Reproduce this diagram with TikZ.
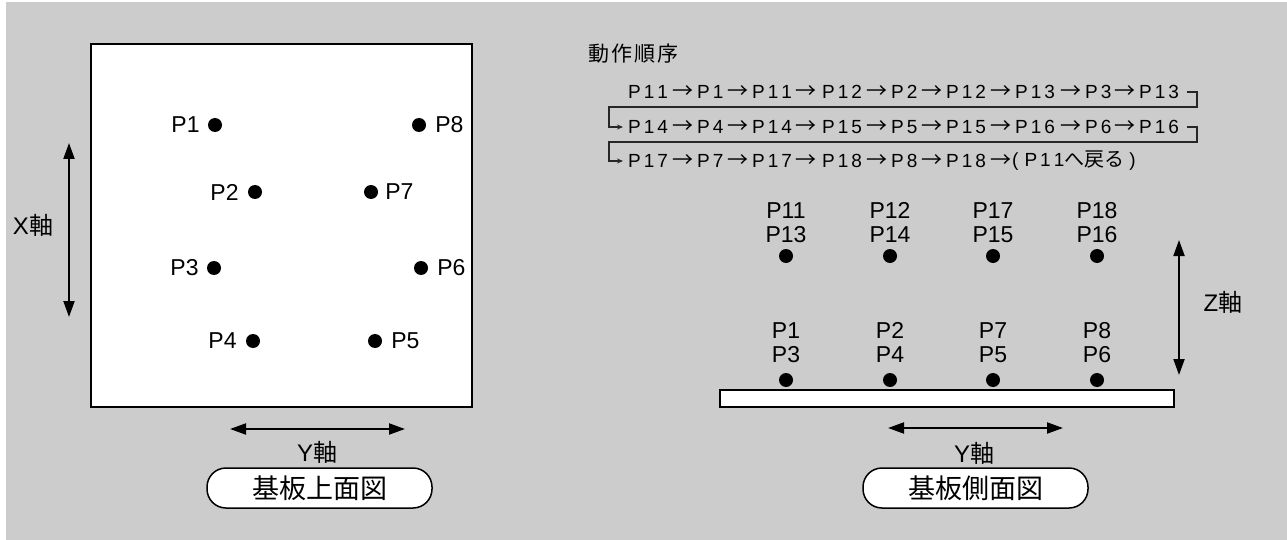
\documentclass[tikz,border=0pt]{standalone}
\usepackage{fontspec}
\setmainfont{Liberation Sans}
\newfontfamily\jp{Noto Sans CJK JP}
\newfontfamily\seqj[LetterSpace=10]{Noto Sans CJK JP}
\newcommand\ks{\kern3pt}
\usetikzlibrary{arrows.meta,positioning}
\definecolor{bg}{HTML}{CCCCCC}
\begin{document}
\begin{tikzpicture}[x=1pt,y=-1pt,
  dot/.style={circle,fill=black,inner sep=0pt,minimum size=14pt},
  lbl/.style={inner sep=0pt,font=\fontsize{23}{24}\selectfont},
  stack/.style={inner sep=0pt,align=center,font=\fontsize{23}{24}\selectfont},
  axis/.style={line width=2pt,{Triangle[length=16pt,width=11pt]}-{Triangle[length=16pt,width=11pt]}},
  axlbl/.style={inner sep=0pt,font=\fontsize{24}{26}\selectfont},
  capsule/.style={draw=black,line width=1.5pt,fill=white,rounded corners=19pt,minimum width=225pt,minimum height=40pt,inner sep=0pt,font=\jp\fontsize{27}{30}\selectfont},
  tok/.style={inner sep=0pt,anchor=west,font=\fontsize{19}{20}\selectfont},
  arr/.style={inner sep=0pt,font=\jp\fontsize{21}{21}\selectfont},
  seqline/.style={line width=1.5pt,draw=black!85},
  board/.style={line width=2pt,fill=white,draw=black}
]
\useasboundingbox (0,0) rectangle (1287,540);
\fill[white] (0,0) rectangle (1287,540);
\fill[bg] (6,2) rectangle (1287,540);

% ---- top view ----
\draw[board] (91,44) rectangle (472,407);
\node[dot] (d1) at (215,125) {}; \node[lbl,left=8pt of d1] (t1) {P1};
\node[dot] (d8) at (419,125) {}; \node[lbl,right=9pt of d8] (t8) {P8};
\node[dot] (d2) at (255,192) {}; \node[lbl,left=9pt of d2] (t2) {P2};
\node[dot] (d7) at (371,192) {}; \node[lbl,right=7pt of d7] (t7) {P7};
\node[dot] (d3) at (214,268) {}; \node[lbl,left=8pt of d3] (t3) {P3};
\node[dot] (d6) at (421,268) {}; \node[lbl,right=9pt of d6] (t6) {P6};
\node[dot] (d4) at (253,341) {}; \node[lbl,left=9pt of d4] (t4) {P4};
\node[dot] (d5) at (375,341) {}; \node[lbl,right=9pt of d5] (t5) {P5};

\coordinate (xa1) at (69,143); \coordinate (xa2) at (69,317);
\draw[axis] (xa1) -- (xa2);
\node[axlbl] (xl) at (33,225) {X{\jp 軸}};
\coordinate (ya1) at (230,429); \coordinate (ya2) at (405,429);
\draw[axis] (ya1) -- (ya2);
\node[axlbl] (yl) at (317,452) {Y{\jp 軸}};
\node[capsule] (c1) at (319.5,488) {基板上面図};

% ---- sequence ----
\node[inner sep=0pt,anchor=west,font=\seqj\fontsize{21}{24}\selectfont] (seqt) at (588,54) {動作順序};
\foreach \x/\tx [count=\i] in {628/P\ks1\ks1, 697/P\ks1, 752/P\ks1\ks1, 822/P\ks1\ks2, 891/P\ks2, 946/P\ks1\ks2, 1015/P\ks1\ks3, 1085/P\ks3, 1139/P\ks1\ks3}
  \node[tok] (ra\i) at (\x,92) {\tx};
\foreach \x/\tx [count=\i] in {628/P\ks1\ks4, 697/P\ks4, 752/P\ks1\ks4, 822/P\ks1\ks5, 891/P\ks5, 946/P\ks1\ks5, 1015/P\ks1\ks6, 1085/P\ks6, 1139/P\ks1\ks6}
  \node[tok] (rb\i) at (\x,127) {\tx};
\foreach \x/\tx [count=\i] in {628/P\ks1\ks7, 697/P\ks7, 752/P\ks1\ks7, 822/P\ks1\ks8, 891/P\ks8, 946/P\ks1\ks8}
  \node[tok] (rc\i) at (\x,161) {\tx};
\node[tok] (rc7) at (1012,161) {(\kern6pt P\ks1\ks1{\jp\fontsize{20}{20}\selectfont へ戻る}\kern5pt)};
\foreach \x [count=\i] in {683,738,806,877,932,1001,1071,1125}{
  \node[arr] (aa\i) at (\x,92) {→};
  \node[arr] (ab\i) at (\x,127) {→};
}
\foreach \x [count=\i] in {683,738,806,877,932,1001}
  \node[arr] (ac\i) at (\x,161) {→};
\coordinate (k1) at (1197,92);
\coordinate (k2) at (1197,127);
\draw[seqline,-{Stealth[length=6pt,width=5pt]}] ([xshift=8pt]ra9.east) -- (k1) -- ++(0,15) -| ([xshift=-19pt]rb1.west) -- ([xshift=-5pt]rb1.west);
\draw[seqline,-{Stealth[length=6pt,width=5pt]}] ([xshift=8pt]rb9.east) -- (k2) -- ++(0,15) -| ([xshift=-19pt]rc1.west) -- ([xshift=-5pt]rc1.west);

% ---- side view ----
\draw[board] (720,390) rectangle (1174,407);
\node[dot] (u1) at (786,256) {}; \node[stack,above=6pt of u1] (s1) {P11\\P13};
\node[dot] (u2) at (890,256) {}; \node[stack,above=6pt of u2] (s2) {P12\\P14};
\node[dot] (u3) at (993,256) {}; \node[stack,above=6pt of u3] (s3) {P17\\P15};
\node[dot] (u4) at (1097,256) {}; \node[stack,above=6pt of u4] (s4) {P18\\P16};
\node[dot] (b1) at (786,380) {}; \node[stack,above=10pt of b1] (q1) {P1\\P3};
\node[dot] (b2) at (890,380) {}; \node[stack,above=10pt of b2] (q2) {P2\\P4};
\node[dot] (b3) at (993,380) {}; \node[stack,above=10pt of b3] (q3) {P7\\P5};
\node[dot] (b4) at (1097,380) {}; \node[stack,above=10pt of b4] (q4) {P8\\P6};

\coordinate (za1) at (1179,240); \coordinate (za2) at (1179,375);
\draw[axis] (za1) -- (za2);
\node[axlbl] (zl) at (1223,302) {Z{\jp 軸}};
\coordinate (yb1) at (888,428); \coordinate (yb2) at (1063,428);
\draw[axis] (yb1) -- (yb2);
\node[axlbl] (yl2) at (974,453) {Y{\jp 軸}};
\node[capsule] (c2) at (975.5,488) {基板側面図};
\end{tikzpicture}
\end{document}
